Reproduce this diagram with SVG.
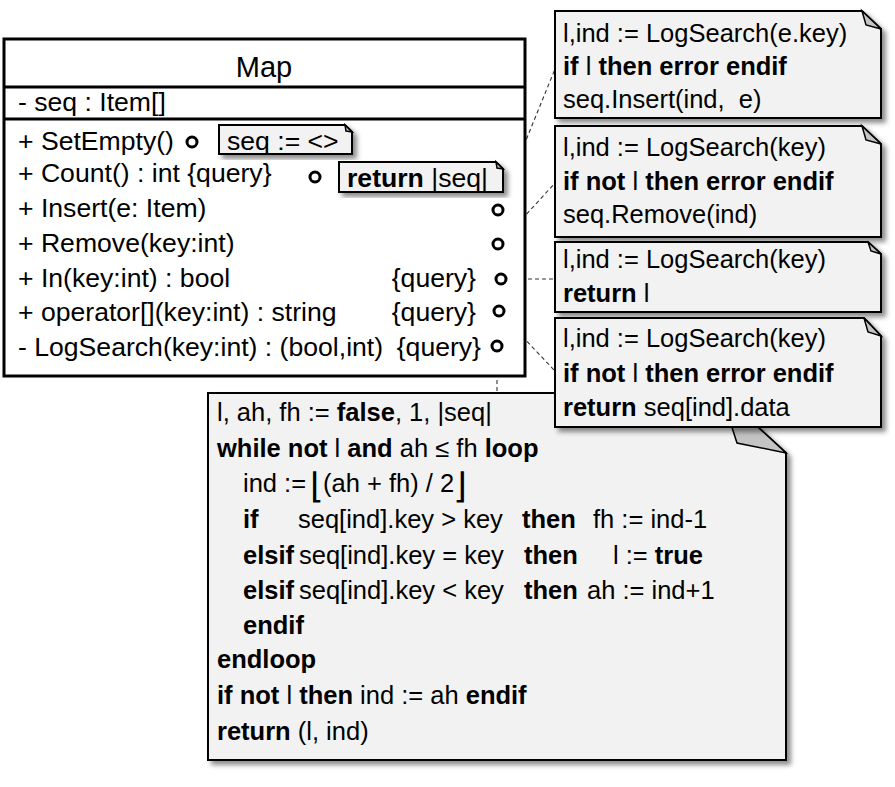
<svg xmlns="http://www.w3.org/2000/svg" width="895" height="787" viewBox="0 0 895 787">
<defs>
<filter id="sh" x="-10%" y="-10%" width="130%" height="130%">
<feDropShadow dx="4" dy="4" stdDeviation="2.5" flood-color="#000" flood-opacity="0.45"/>
</filter>
<style>
.t{font-family:"Liberation Sans",Arial,sans-serif;font-size:25.5px;fill:#000;white-space:pre}
.c{font-size:26.6px}
.b{font-weight:bold}
.br{font-family:"DejaVu Sans",sans-serif;font-size:35px}
.note{fill:#f2f2f2;stroke:#000;stroke-width:2;stroke-linejoin:miter}
.fold{fill:#c4c4c4;stroke:#000;stroke-width:1.5;stroke-linejoin:miter}
.conn{fill:none;stroke:#333;stroke-width:1.1;stroke-dasharray:4 3}
.port{fill:#fff;stroke:#000;stroke-width:3}
</style>
</defs>
<rect width="895" height="787" fill="#fff"/>

<g id="connectors">
<line class="conn" x1="198" y1="142" x2="219" y2="142"/>
<line class="conn" x1="321" y1="177" x2="339" y2="177"/>
<line class="conn" x1="500" y1="204" x2="555" y2="69"/>
<line class="conn" x1="503" y1="240" x2="555" y2="183"/>
<line class="conn" x1="507" y1="279" x2="555" y2="279"/>
<line class="conn" x1="503" y1="316" x2="555" y2="371"/>
<line class="conn" x1="497" y1="352" x2="497" y2="393"/>
</g>

<g id="map">
<rect x="4" y="39" width="521" height="337" fill="#fff" stroke="#000" stroke-width="3"/>
<line x1="4" y1="87" x2="525" y2="87" stroke="#000" stroke-width="3"/>
<line x1="4" y1="119" x2="525" y2="119" stroke="#000" stroke-width="3"/>
<text class="t" x="264" y="77" text-anchor="middle" style="font-size:29px">Map</text>
<text class="t c" x="18" y="111">- seq : Item[]</text>
<text class="t c" x="18" y="150">+ SetEmpty()</text>
<text class="t c" x="18" y="182">+ Count() : int {query}</text>
<text class="t c" x="18" y="217">+ Insert(e: Item)</text>
<text class="t c" x="18" y="252">+ Remove(key:int)</text>
<text class="t c" x="18" y="287">+ In(key:int) : bool</text>
<text class="t c" x="476" y="287" text-anchor="end">{query}</text>
<text class="t c" x="18" y="321">+ operator[](key:int) : string</text>
<text class="t c" x="476" y="321" text-anchor="end">{query}</text>
<text class="t c" x="18" y="356">- LogSearch(key:int) : (bool,int)</text>
<text class="t c" x="481" y="356" text-anchor="end">{query}</text>
<circle class="port" cx="192" cy="142" r="5"/>
<circle class="port" cx="315" cy="177" r="5"/>
<circle class="port" cx="498" cy="210" r="5"/>
<circle class="port" cx="498" cy="244" r="5"/>
<circle class="port" cx="501" cy="279" r="5"/>
<circle class="port" cx="499" cy="311" r="5"/>
<circle class="port" cx="497" cy="346" r="5"/>
</g>

<g id="note-setempty">
<path class="note" filter="url(#sh)" d="M219,125 H345 L352,132 V154 H219 Z"/>
<path class="fold" d="M345,125 L346,131 L352,132 Z"/>
<text class="t c" x="227" y="150">seq := &lt;&gt;</text>
</g>

<g id="note-count">
<path class="note" filter="url(#sh)" d="M339,162 H496 L503,169 V192 H339 Z"/>
<path class="fold" d="M496,162 L497,168 L503,169 Z"/>
<text class="t c" x="347" y="187"><tspan class="b">return</tspan> |seq|</text>
</g>

<g id="note-logsearch">
<path class="note" filter="url(#sh)" d="M208,393 H721 L786,453 V760 H208 Z"/>
<path class="fold" d="M721,393 L737,443 L786,453 Z"/>
<text class="t" x="217" y="421">l, ah, fh := <tspan class="b">false</tspan>, 1, |seq|</text>
<text class="t" x="217" y="457"><tspan class="b">while not</tspan> l <tspan class="b">and</tspan> ah ≤ fh <tspan class="b">loop</tspan></text>
<text class="t" x="243" y="492">ind :=</text>
<text class="t br" x="310" y="498">⌊</text>
<text class="t" x="323" y="492">(ah + fh) / 2</text>
<text class="t br" x="453" y="498">⌋</text>
<text class="t b" x="243" y="528">if</text>
<text class="t" x="298" y="528">seq[ind].key &gt; key</text>
<text class="t b" x="522" y="528">then</text>
<text class="t" x="593" y="528">fh := ind-1</text>
<text class="t b" x="243" y="564">elsif</text>
<text class="t" x="299" y="564">seq[ind].key = key</text>
<text class="t b" x="524" y="564">then</text>
<text class="t" x="613" y="564">l := <tspan class="b">true</tspan></text>
<text class="t b" x="243" y="599">elsif</text>
<text class="t" x="299" y="599">seq[ind].key &lt; key</text>
<text class="t b" x="524" y="599">then</text>
<text class="t" x="587" y="599">ah := ind+1</text>
<text class="t b" x="243" y="634">endif</text>
<text class="t b" x="217" y="668">endloop</text>
<text class="t" x="217" y="704"><tspan class="b">if not</tspan> l <tspan class="b">then</tspan> ind := ah <tspan class="b">endif</tspan></text>
<text class="t" x="217" y="740"><tspan class="b">return</tspan> (l, ind)</text>
</g>

<g id="note-insert">
<path class="note" filter="url(#sh)" d="M555,11 H862 L881,29 V118 H555 Z"/>
<path class="fold" d="M862,11 L866,25 L881,29 Z"/>
<text class="t" x="563" y="42">l,ind := LogSearch(e.key)</text>
<text class="t" x="563" y="75"><tspan class="b">if</tspan> l <tspan class="b">then error endif</tspan></text>
<text class="t" x="563" y="108">seq.Insert(ind,  e)</text>
</g>

<g id="note-remove">
<path class="note" filter="url(#sh)" d="M555,126 H862 L881,144 V237 H555 Z"/>
<path class="fold" d="M862,126 L866,140 L881,144 Z"/>
<text class="t" x="563" y="156">l,ind := LogSearch(key)</text>
<text class="t" x="563" y="190"><tspan class="b">if not</tspan> l <tspan class="b">then error endif</tspan></text>
<text class="t" x="563" y="223">seq.Remove(ind)</text>
</g>

<g id="note-in">
<path class="note" filter="url(#sh)" d="M555,242 H868 L881,254 V312 H555 Z"/>
<path class="fold" d="M868,242 L871,251 L881,254 Z"/>
<text class="t" x="563" y="268">l,ind := LogSearch(key)</text>
<text class="t" x="563" y="302"><tspan class="b">return</tspan> l</text>
</g>

<g id="note-operator">
<path class="note" filter="url(#sh)" d="M555,318 H864 L881,336 V427 H555 Z"/>
<path class="fold" d="M864,318 L868,332 L881,336 Z"/>
<text class="t" x="563" y="347">l,ind := LogSearch(key)</text>
<text class="t" x="563" y="382"><tspan class="b">if not</tspan> l <tspan class="b">then error endif</tspan></text>
<text class="t" x="563" y="416"><tspan class="b">return</tspan> seq[ind].data</text>
</g>
</svg>
